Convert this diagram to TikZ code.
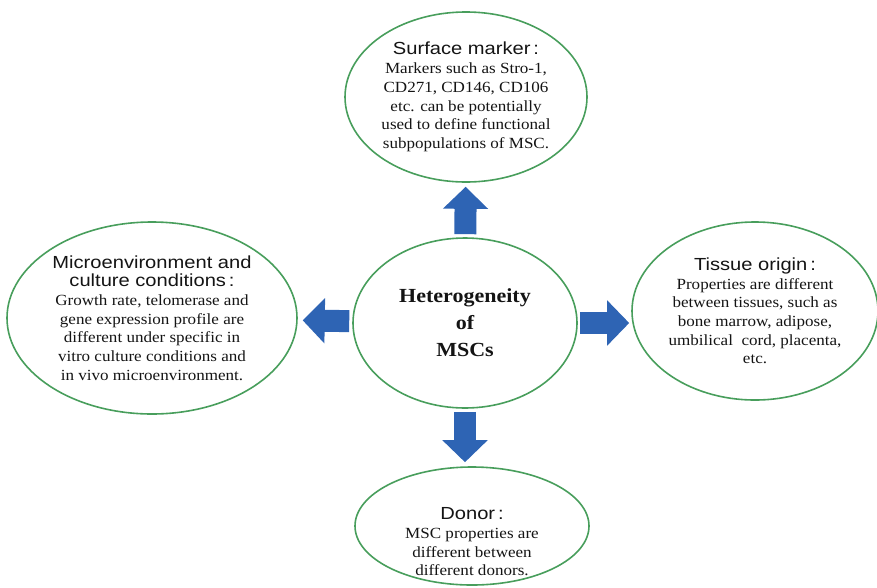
\documentclass[tikz,border=0pt]{standalone}
\usepackage{fontspec}
\setmainfont{Liberation Serif}[FakeStretch=1.1]
\setsansfont{Liberation Sans}[FakeStretch=1.15]
\usepackage{tikz}
\usetikzlibrary{shapes.geometric,arrows.meta}
\definecolor{ellgreen}{RGB}{72,158,92}
\definecolor{arrblue}{RGB}{46,100,180}
\newcommand{\hd}[1]{{\sffamily\fontsize{17.5}{19}\selectfont #1}}

\begin{document}
\begin{tikzpicture}
  [x=1pt,y=-1pt,every node/.style={text=black!92,align=center,
   font=\fontsize{15.5}{18.7}\selectfont}]

  \tikzstyle{bubble} = [draw=ellgreen,line width=1.6pt,ellipse,inner sep=0pt]
  \tikzstyle{fat} = [arrblue,line width=22pt,-{Triangle[width=44pt,length=22pt]}]

  \useasboundingbox (0,0) rectangle (877,587);

  \node[bubble,minimum width=224pt,minimum height=170pt,
        font=\bfseries\fontsize{20}{27}\selectfont] (ctr) at (465,323)
        {Heterogeneity\\of\\MSCs};
  \node[bubble,minimum width=242pt,minimum height=170pt] (surf) at (466,97)
        {\hd{Surface marker\,:}\\Markers such as Stro-1,\\CD271, CD146, CD106\\
         etc. can be potentially\\used to define functional\\subpopulations of MSC.};
  \node[bubble,minimum width=290pt,minimum height=192pt] (micro) at (152,318)
        {\hd{Microenvironment and}\\\hd{culture conditions\,:}\\
         Growth rate, telomerase and\\gene expression profile are\\
         different under specific in\\vitro culture conditions and\\
         in vivo microenvironment.};
  \node[bubble,minimum width=246pt,minimum height=178pt] (tissue) at (755,311)
        {\hd{Tissue origin\,:}\\Properties are different\\between tissues, such as\\
         bone marrow, adipose,\\umbilical\ \ cord, placenta,\\etc.};
  \node[bubble,minimum width=234pt,minimum height=118pt] (donor) at (472,526) {};
  \node (donortxt) at ([yshift=-16pt]donor.center)
        {\hd{Donor\,:}\\MSC properties are\\different between\\different donors.};

  \path[fat]
        (ctr) edge [shorten <=3pt, shorten >=4pt] (surf)
        (ctr) edge [shorten <=3pt, shorten >=5pt] (micro)
        (ctr) edge [shorten <=2pt, shorten >=2pt] (ctr -| tissue.west)
        (ctr) edge [shorten <=3pt, shorten >=4pt] (ctr |- donor.north);
\end{tikzpicture}
\end{document}
